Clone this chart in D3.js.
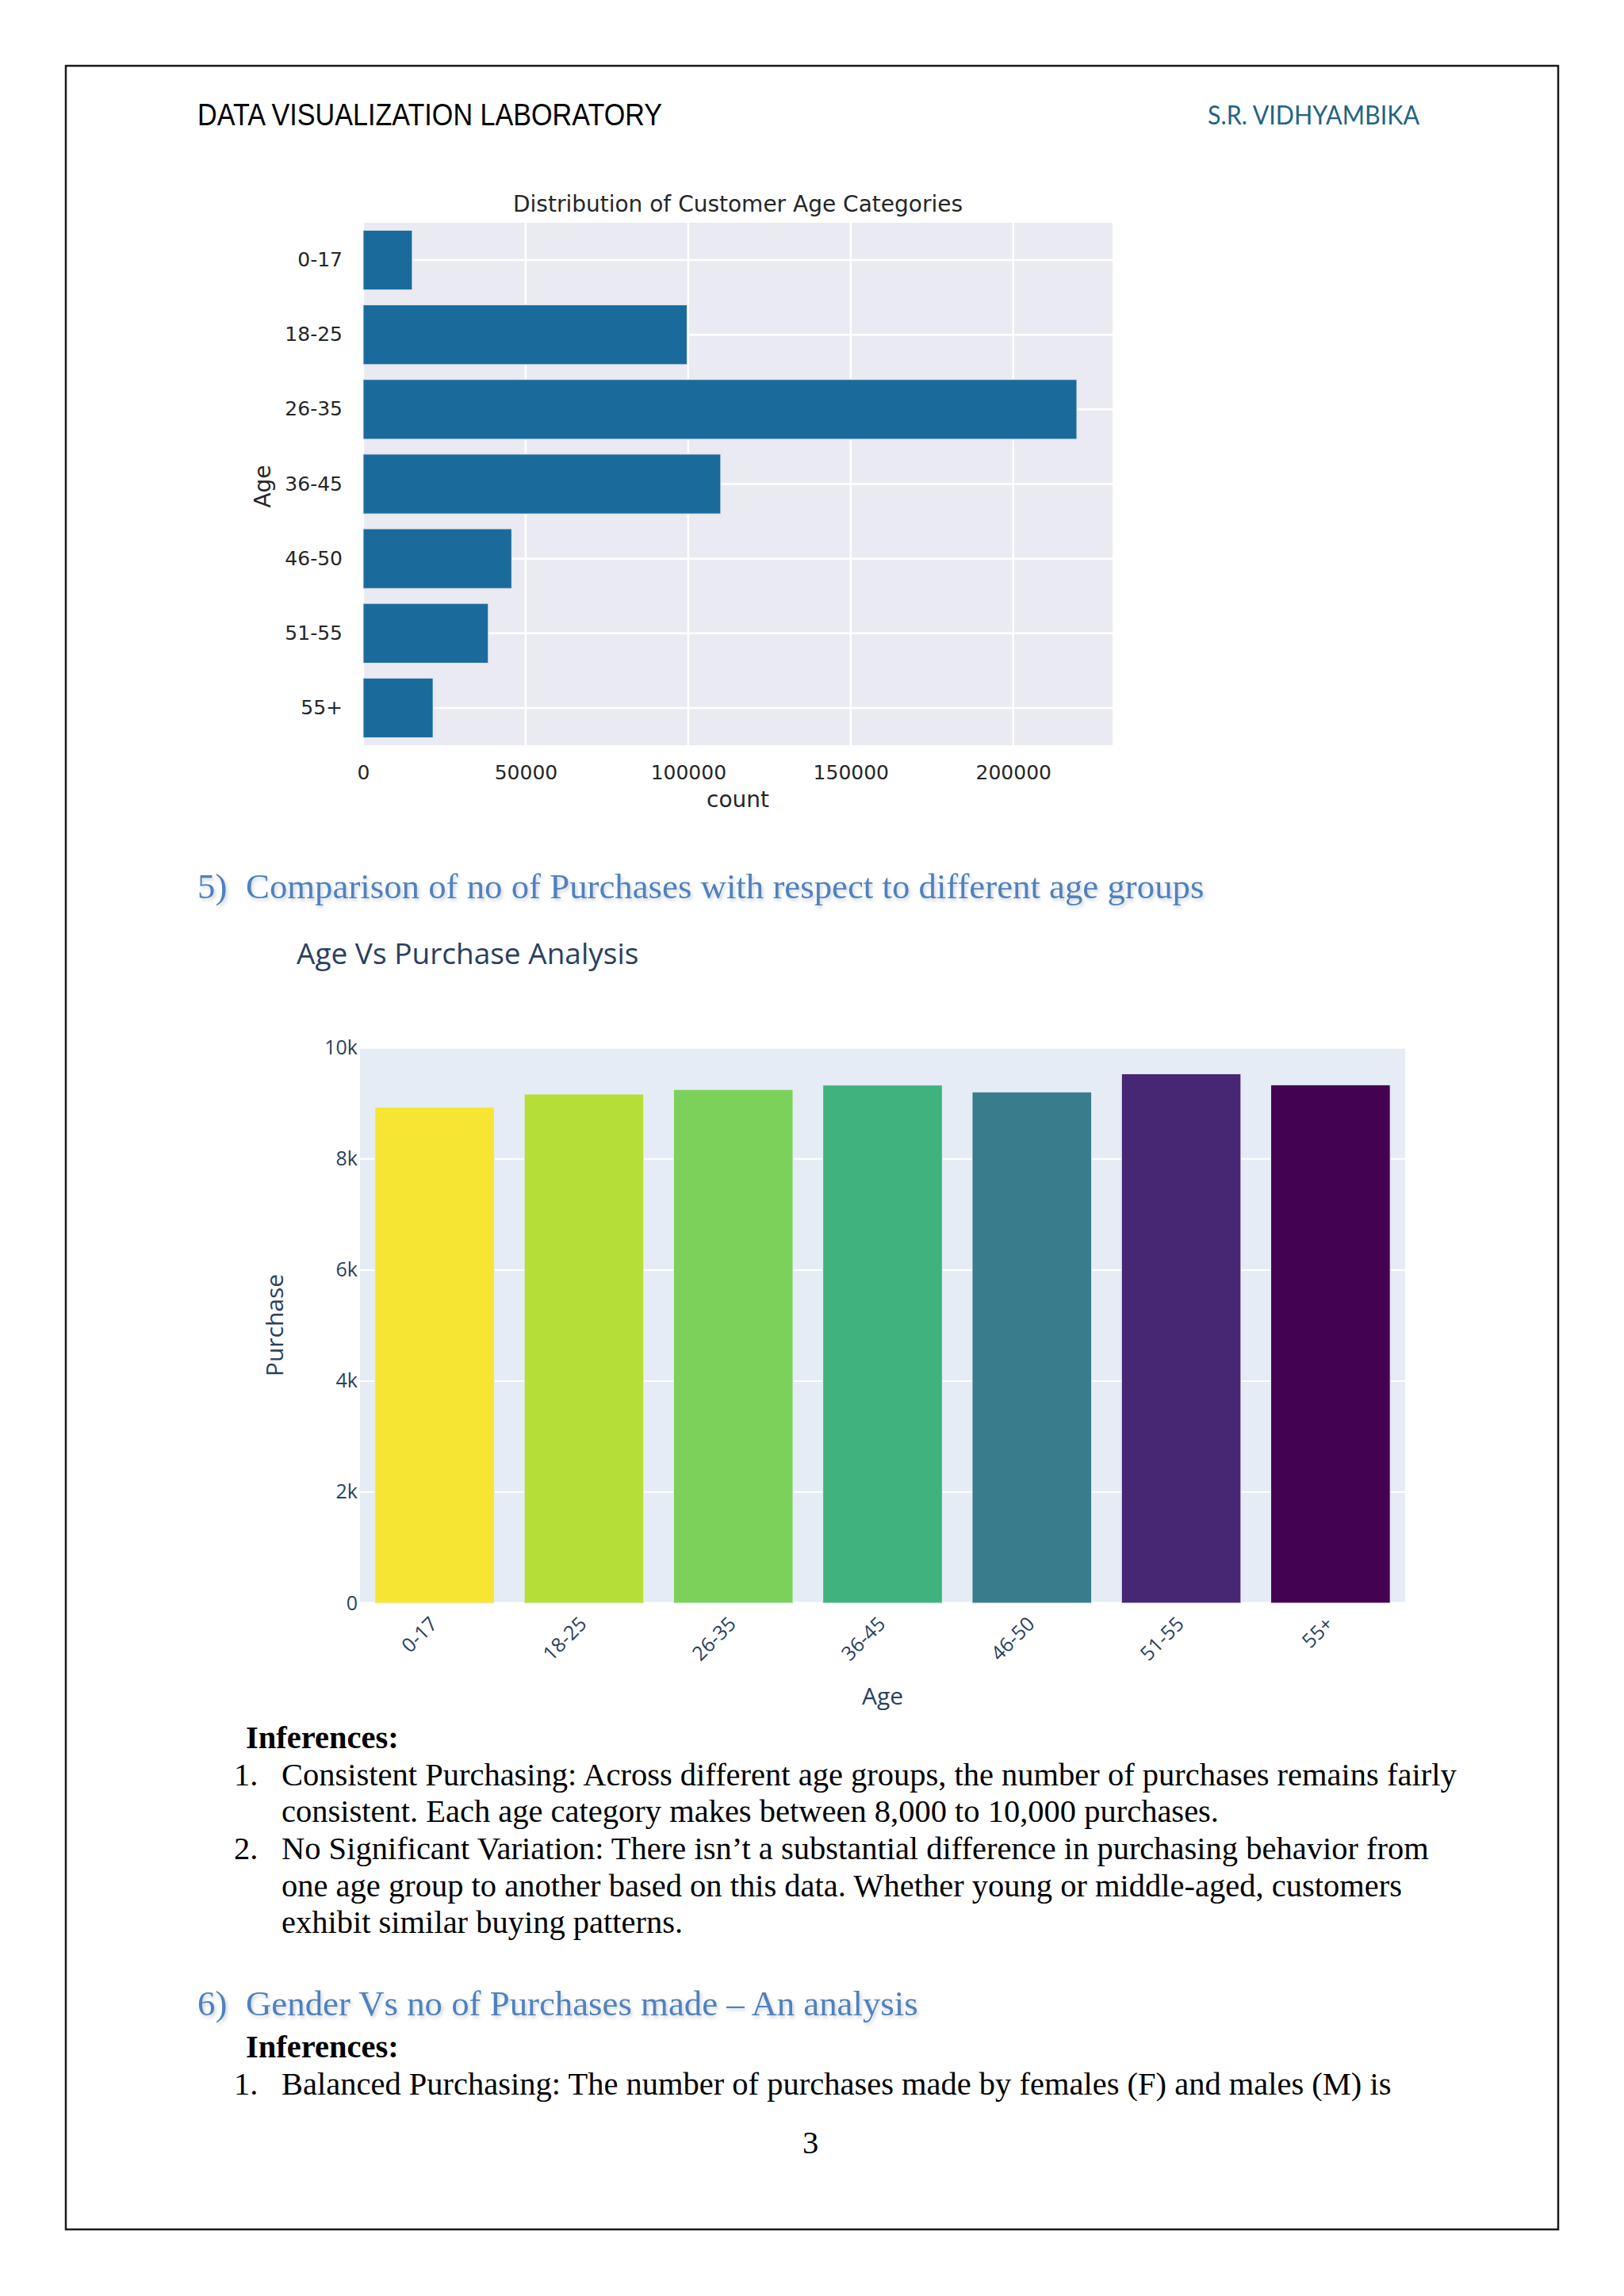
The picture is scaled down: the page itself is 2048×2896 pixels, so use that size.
<!DOCTYPE html>
<html>
<head>
<meta charset="utf-8">
<script src="https://cdn.jsdelivr.net/npm/d3@7"></script>
<style>
  body { margin: 0; background: #fff; }
  svg { display: block; }
</style>
</head>
<body>
<svg id="page" width="2048" height="2896"></svg>
<script>
// chart values
const ageGroups = ['0-17', '18-25', '26-35', '36-45', '46-50', '51-55', '55+'];
const ageCounts = [15102, 99660, 219587, 110013, 45701, 38501, 21504];
const countTicks = [0, 50000, 100000, 150000, 200000];
const meanPurchase = [8933, 9169, 9252, 9331, 9208, 9535, 9336];
const purchaseTicks = [0, 2000, 4000, 6000, 8000, 10000];
const purchaseTickLabels = ['0', '2k', '4k', '6k', '8k', '10k'];

// viridis-like bar colours, one per age group
const barColors = ['#f6e633', '#b5de36', '#7cd15a', '#40b27e', '#397c8b', '#472674', '#430352'];

const svg = d3.select('#page');
const serif = '"Liberation Serif", "Times New Roman", serif';
const plotlyFont = '"Open Sans", sans-serif';
const sbFont = '"DejaVu Sans", sans-serif';

// heading shadow (Word style)
const defs = svg.append('defs');
defs.append('filter').attr('id', 'hshadow').attr('x', '-5%').attr('y', '-30%').attr('width', '110%').attr('height', '160%')
  .append('feDropShadow').attr('dx', 2).attr('dy', 3).attr('stdDeviation', 2)
  .attr('flood-color', '#8a9aae').attr('flood-opacity', 0.45);

// page frame
svg.append('rect').attr('x', 83).attr('y', 83).attr('width', 1882).attr('height', 2729)
  .attr('fill', 'none').attr('stroke', '#1a1a1a').attr('stroke-width', 2.5);

// running header
svg.append('text').attr('x', 249).attr('y', 158)
  .attr('font-family', '"Liberation Sans Narrow", "Arial Narrow", sans-serif').attr('font-size', 39)
  .attr('textLength', 586).attr('lengthAdjust', 'spacingAndGlyphs')
  .attr('fill', '#000').text('DATA VISUALIZATION LABORATORY');
svg.append('text').attr('x', 1523).attr('y', 157)
  .attr('font-family', 'Lato, sans-serif').attr('font-size', 33)
  .attr('textLength', 267).attr('lengthAdjust', 'spacingAndGlyphs')
  .attr('fill', '#1f6484').text('S.R. VIDHYAMBIKA');

// ---------- Chart 1: seaborn style horizontal count plot ----------
(function() {
  const left = 458, right = 1403, top = 281, bottom = 940;
  const x = d3.scaleLinear().domain([0, d3.max(ageCounts) * 1.05]).range([left, right]);
  const y = d3.scaleBand().domain(ageGroups).range([top, bottom]).paddingInner(0.2).paddingOuter(0.1);
  const g = svg.append('g');

  g.append('rect').attr('x', left).attr('y', top).attr('width', right - left).attr('height', bottom - top)
    .attr('fill', '#eaeaf2');

  g.selectAll('.vgrid').data(countTicks).enter().append('line')
    .attr('x1', d => x(d)).attr('x2', d => x(d)).attr('y1', top).attr('y2', bottom)
    .attr('stroke', '#fff').attr('stroke-width', 2.5);
  g.selectAll('.hgrid').data(ageGroups).enter().append('line')
    .attr('x1', left).attr('x2', right)
    .attr('y1', d => y(d) + y.bandwidth() / 2).attr('y2', d => y(d) + y.bandwidth() / 2)
    .attr('stroke', '#fff').attr('stroke-width', 2.5);

  g.selectAll('.bar').data(ageGroups).enter().append('rect')
    .attr('x', x(0)).attr('y', d => y(d))
    .attr('width', (d, i) => x(ageCounts[i]) - x(0)).attr('height', y.bandwidth())
    .attr('fill', '#1a6b9c').attr('stroke', '#e4e8f0').attr('stroke-width', 1);

  const xa = g.append('g').attr('transform', `translate(0,${bottom})`)
    .call(d3.axisBottom(x).tickValues(countTicks).tickFormat(d3.format('d')).tickSize(0).tickPadding(25));
  const ya = g.append('g').attr('transform', `translate(${left},0)`)
    .call(d3.axisLeft(y).tickSize(0).tickPadding(26));
  [xa, ya].forEach(a => {
    a.select('.domain').remove();
    a.selectAll('text').attr('font-family', sbFont).attr('font-size', 25).attr('fill', '#262626');
  });

  g.append('text').attr('x', (left + right) / 2).attr('y', 267).attr('text-anchor', 'middle')
    .attr('font-family', sbFont).attr('font-size', 28).attr('fill', '#262626')
    .text('Distribution of Customer Age Categories');
  g.append('text').attr('x', (left + right) / 2).attr('y', 1018).attr('text-anchor', 'middle')
    .attr('font-family', sbFont).attr('font-size', 28).attr('fill', '#262626').text('count');
  g.append('text').attr('transform', `translate(331,${(top + bottom) / 2 + 3}) rotate(-90)`)
    .attr('text-anchor', 'middle').attr('dy', '0.35em')
    .attr('font-family', sbFont).attr('font-size', 28).attr('fill', '#262626').text('Age');
})();

// section headings
function heading(num, label, y) {
  const t = svg.append('g').attr('filter', 'url(#hshadow)')
    .attr('font-family', serif).attr('font-size', 44.8).attr('fill', '#4f81bd');
  t.append('text').attr('x', 249).attr('y', y).text(num);
  t.append('text').attr('x', 310).attr('y', y).text(label);
}
heading('5)', 'Comparison of no of Purchases with respect to different age groups', 1133);

// ---------- Chart 2: plotly style vertical bar chart ----------
(function() {
  const left = 454, right = 1772, top = 1321, bottom = 2022;
  const x = d3.scaleBand().domain(ageGroups).range([left, right]).paddingInner(0.2).paddingOuter(0.1);
  const y = d3.scaleLinear().domain([0, d3.max(meanPurchase) * 1.05]).range([bottom, top]);
  const g = svg.append('g');

  g.append('rect').attr('x', left).attr('y', top).attr('width', right - left).attr('height', bottom - top)
    .attr('fill', '#e5ecf6');
  g.selectAll('.grid').data(purchaseTicks).enter().append('line')
    .attr('x1', left).attr('x2', right).attr('y1', d => y(d)).attr('y2', d => y(d))
    .attr('stroke', '#fff').attr('stroke-width', d => d === 0 ? 3 : 2);

  g.selectAll('.bar').data(ageGroups).enter().append('rect')
    .attr('x', d => x(d)).attr('y', (d, i) => y(meanPurchase[i]))
    .attr('width', x.bandwidth()).attr('height', (d, i) => y(0) - y(meanPurchase[i]))
    .attr('fill', (d, i) => barColors[i]).attr('stroke', '#e5ecf6').attr('stroke-width', 1);

  const ya = g.append('g').attr('transform', `translate(${left},0)`)
    .call(d3.axisLeft(y).tickValues(purchaseTicks).tickFormat((d, i) => purchaseTickLabels[i]).tickSize(0).tickPadding(3));
  ya.select('.domain').remove();
  ya.selectAll('text').attr('font-family', plotlyFont).attr('font-size', 25).attr('fill', '#2a3f5f');

  const xa = g.append('g').attr('transform', `translate(0,${bottom})`)
    .call(d3.axisBottom(x).tickSize(0));
  xa.select('.domain').remove();
  xa.selectAll('text')
    .attr('font-family', plotlyFont).attr('font-size', 25).attr('fill', '#2a3f5f')
    .attr('text-anchor', 'end').attr('dy', null).attr('y', null)
    .attr('transform', 'translate(5,28) rotate(-45)');

  g.append('text').attr('x', 374).attr('y', 1216)
    .attr('font-family', plotlyFont).attr('font-size', 37).attr('fill', '#2a3f5f')
    .text('Age Vs Purchase Analysis');
  g.append('text').attr('x', (left + right) / 2).attr('y', 2150).attr('text-anchor', 'middle')
    .attr('font-family', plotlyFont).attr('font-size', 30).attr('fill', '#2a3f5f').text('Age');
  g.append('text').attr('transform', `translate(346,${(top + bottom) / 2}) rotate(-90)`)
    .attr('text-anchor', 'middle').attr('dy', '0.35em')
    .attr('font-family', plotlyFont).attr('font-size', 30).attr('fill', '#2a3f5f').text('Purchase');
})();

// ---------- body text ----------
const body = svg.append('g').attr('font-family', serif).attr('font-size', 40.5).attr('fill', '#000');
function bold(txt, y) {
  body.append('text').attr('x', 310).attr('y', y).attr('font-weight', 'bold').text(txt);
}
function line(num, txt, y) {
  if (num) body.append('text').attr('x', 295).attr('y', y).text(num);
  body.append('text').attr('x', 355).attr('y', y).text(txt);
}
bold('Inferences:', 2205);
line('1.', 'Consistent Purchasing: Across different age groups, the number of purchases remains fairly', 2252);
line(null, 'consistent. Each age category makes between 8,000 to 10,000 purchases.', 2298);
line('2.', 'No Significant Variation: There isn\u2019t a substantial difference in purchasing behavior from', 2345);
line(null, 'one age group to another based on this data. Whether young or middle-aged, customers', 2392);
line(null, 'exhibit similar buying patterns.', 2438);

heading('6)', 'Gender Vs no of Purchases made \u2013 An analysis', 2542);
bold('Inferences:', 2595);
line('1.', 'Balanced Purchasing: The number of purchases made by females (F) and males (M) is', 2642);

body.append('text').attr('x', 1022).attr('y', 2716).attr('text-anchor', 'middle').text('3');
</script>
</body>
</html>
